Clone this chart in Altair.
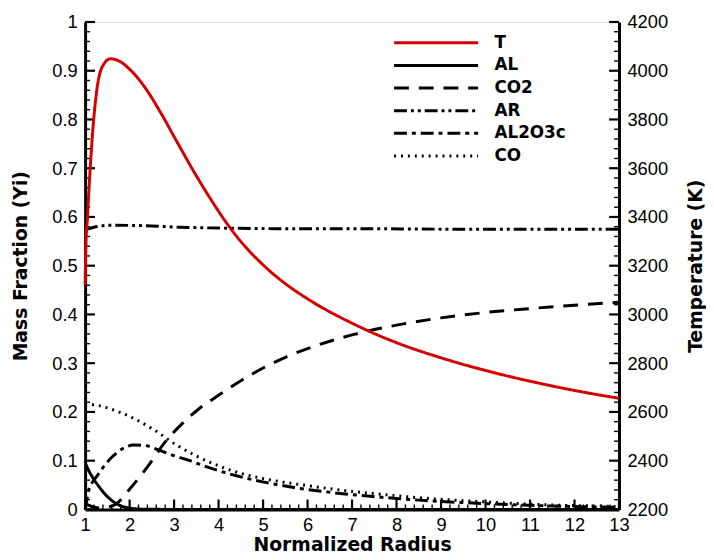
import altair as alt
import pandas as pd

# ---------------- data ----------------
series_order = ["T", "AL", "CO2", "AR", "AL2O3c", "CO"]
series_colors = ["#d40000", "black", "black", "black", "black", "black"]
series_dashes = [[1, 0], [1, 0], [15, 10], [13, 4, 3, 4, 3, 4], [13, 5, 4, 5], [2, 5]]
series_widths = [3, 3, 3, 3, 3, 2]

r_T = [1.0, 1.02, 1.05, 1.09, 1.16, 1.27, 1.39, 1.57, 1.76, 2.05, 2.35, 2.72, 3.09,
       3.47, 3.84, 4.2, 4.58, 4.95, 5.32, 6.0, 7.0, 8.0, 9.0, 10.0, 11.0, 12.0, 13.0]
T_K = [3120, 3300, 3390, 3524, 3726, 3930, 4018, 4049, 4040, 3997, 3930, 3821, 3700,
       3578, 3468, 3370, 3282, 3212, 3152, 3064, 2964, 2884, 2822, 2770, 2726, 2688, 2656]

r_AL = [1.0, 1.08, 1.16, 1.31, 1.46, 1.68, 1.98, 2.3, 3.0, 13.0]
Y_AL = [0.097, 0.08, 0.067, 0.047, 0.03, 0.013, 0.003, 0.0005, 0.0, 0.0]

r_CO2 = [1.0, 1.15, 1.3, 1.45, 1.68, 2.05, 2.43, 2.83, 3.16, 3.54, 3.98, 4.5, 5.0,
         5.5, 6.0, 6.5, 7.0, 7.5, 8.0, 9.0, 10.0, 11.0, 12.0, 13.0]
Y_CO2 = [0.012, 0.006, 0.003, 0.004, 0.01, 0.047, 0.091, 0.142, 0.174, 0.205, 0.233,
         0.264, 0.29, 0.312, 0.33, 0.345, 0.358, 0.369, 0.378, 0.393, 0.404, 0.412,
         0.419, 0.425]

r_AR = [1.0, 1.2, 1.6, 2.35, 3.1, 4.2, 5.3, 7.0, 9.0, 11.0, 13.0]
Y_AR = [0.574, 0.579, 0.583, 0.582, 0.579, 0.577, 0.576, 0.576, 0.575, 0.575, 0.575]

r_AL2O3c = [1.0, 1.04, 1.09, 1.2, 1.31, 1.45, 1.61, 1.83, 2.09, 2.35, 2.65, 2.94, 3.32,
            3.84, 4.36, 5.02, 5.69, 6.51, 7.4, 8.5, 9.5, 10.5, 11.5, 12.5, 13.0]
Y_AL2O3c = [0.0, 0.02, 0.042, 0.06, 0.074, 0.092, 0.108, 0.124, 0.132, 0.131, 0.122,
            0.112, 0.101, 0.084, 0.07, 0.056, 0.045, 0.035, 0.027, 0.019, 0.014, 0.01,
            0.007, 0.005, 0.004]

r_CO = [1.0, 1.3, 1.61, 2.13, 2.57, 3.02, 3.47, 3.98, 4.58, 5.32, 6.06, 6.81, 7.55,
        8.5, 9.5, 10.5, 11.5, 12.5, 13.0]
Y_CO = [0.216, 0.213, 0.205, 0.185, 0.162, 0.134, 0.111, 0.09, 0.072, 0.058, 0.048,
        0.039, 0.032, 0.024, 0.018, 0.013, 0.009, 0.007, 0.006]

x_major = [1, 2, 3, 4, 5, 6, 7, 8, 9, 10, 11, 12, 13]
yl_major = [0, 0.1, 0.2, 0.3, 0.4, 0.5, 0.6, 0.7, 0.8, 0.9, 1.0]
yr_major = [2200, 2400, 2600, 2800, 3000, 3200, 3400, 3600, 3800, 4000, 4200]

# minor tick positions (4 between majors)
x_minor = [round(a + k * 0.2, 3) for a in x_major[:-1] for k in range(1, 5)]
yl_minor = [round(a + k * 0.02, 4) for a in yl_major[:-1] for k in range(1, 5)]
yr_minor = [a + k * 40 for a in yr_major[:-1] for k in range(1, 5)]

# ---------------- tables ----------------
rows = []
for name, rr, yy in [("AL", r_AL, Y_AL), ("CO2", r_CO2, Y_CO2), ("AR", r_AR, Y_AR),
                     ("AL2O3c", r_AL2O3c, Y_AL2O3c), ("CO", r_CO, Y_CO)]:
    for a, b in zip(rr, yy):
        rows.append({"series": name, "r": a, "Yi": b})
df_species = pd.DataFrame(rows)
df_T = pd.DataFrame({"series": "T", "r": r_T, "T": T_K})

W, H = 540, 493
FONT = "Liberation Sans"
BOLD_FONT = "DejaVu Sans"

x_scale = alt.Scale(domain=[1, 13], nice=False, zero=False)
yl_scale = alt.Scale(domain=[0, 1], nice=False, zero=False)
yr_scale = alt.Scale(domain=[2200, 4200], nice=False, zero=False)
color_scale = alt.Scale(domain=series_order, range=series_colors)
dash_scale = alt.Scale(domain=series_order, range=series_dashes)
sw_scale = alt.Scale(domain=series_order, range=series_widths)

legend = alt.Legend(
    title=None, orient="none", legendX=311, legendY=11, symbolType="stroke",
    symbolSize=7225, symbolStrokeWidth=3, clipHeight=20, rowPadding=2.9,
    labelFont=BOLD_FONT, labelFontSize=17, labelFontWeight="bold", labelColor="black",
    labelOffset=15, padding=0,
)

common_axis = dict(
    ticks=False, tickSize=0, grid=False, domainColor="black", domainWidth=3,
    labelFont=FONT, labelFontSize=18.5, labelColor="black", labelFlush=False,
    titleFont=BOLD_FONT, titleFontSize=19, titleFontWeight="bold", titleColor="black",
)

x_axis = alt.Axis(values=x_major, format="d", title="Normalized Radius",
                  labelPadding=6, titlePadding=2.5, **common_axis)
yl_axis = alt.Axis(values=yl_major, format="~g", title="Mass Fraction (Yi)",
                   labelPadding=8, titlePadding=22, **common_axis)
yr_axis = alt.Axis(values=yr_major, format="d", title="Temperature (K)",
                   orient="right", labelPadding=8, titlePadding=19,
                   titleAngle=270, titleBaseline="top", **common_axis)

enc_style = dict(
    color=alt.Color("series:N", scale=color_scale, legend=legend),
    strokeDash=alt.StrokeDash("series:N", scale=dash_scale, legend=legend),
    strokeWidth=alt.StrokeWidth("series:N", scale=sw_scale, legend=None),
)

species = alt.Chart(df_species).mark_line(interpolate="monotone").encode(
    x=alt.X("r:Q", scale=x_scale, axis=x_axis, title="Normalized Radius"),
    y=alt.Y("Yi:Q", scale=yl_scale, axis=yl_axis, title="Mass Fraction (Yi)"),
    **enc_style,
)


def hticks(vals, scale, axis, title, x0, x1, w):
    return alt.Chart(pd.DataFrame({"v": vals})).mark_rule(color="black", strokeWidth=w).encode(
        y=alt.Y("v:Q", scale=scale, axis=axis, title=title),
        x=alt.value(x0), x2=alt.value(x1))


def vticks(vals, ln, w):
    return alt.Chart(pd.DataFrame({"v": vals})).mark_rule(color="black", strokeWidth=w).encode(
        x=alt.X("v:Q", scale=x_scale, axis=x_axis, title="Normalized Radius"),
        y=alt.value(H), y2=alt.value(H - ln))


left_group = alt.layer(
    species,
    hticks(yl_major, yl_scale, yl_axis, "Mass Fraction (Yi)", 0, 10, 2.2),
    hticks(yl_minor, yl_scale, yl_axis, "Mass Fraction (Yi)", 0, 5, 1.4),
    vticks(x_major, 10, 2.2),
    vticks(x_minor, 5, 1.4),
)

t_line = alt.Chart(df_T).mark_line(interpolate="monotone").encode(
    x=alt.X("r:Q", scale=x_scale, axis=x_axis, title="Normalized Radius"),
    y=alt.Y("T:Q", scale=yr_scale, axis=yr_axis, title="Temperature (K)"),
    **enc_style,
)

right_group = alt.layer(
    t_line,
    hticks(yr_major, yr_scale, yr_axis, "Temperature (K)", W, W - 10, 2.2),
    hticks(yr_minor, yr_scale, yr_axis, "Temperature (K)", W, W - 5, 1.4),
)

chart = alt.layer(left_group, right_group).resolve_scale(y="independent").properties(
    width=W, height=H, padding={"left": 3, "top": 2, "right": 0, "bottom": 0}
).configure_view(strokeWidth=0).configure(background="white")

chart.save("out.html", embed_options={"renderer": "svg", "actions": False})
